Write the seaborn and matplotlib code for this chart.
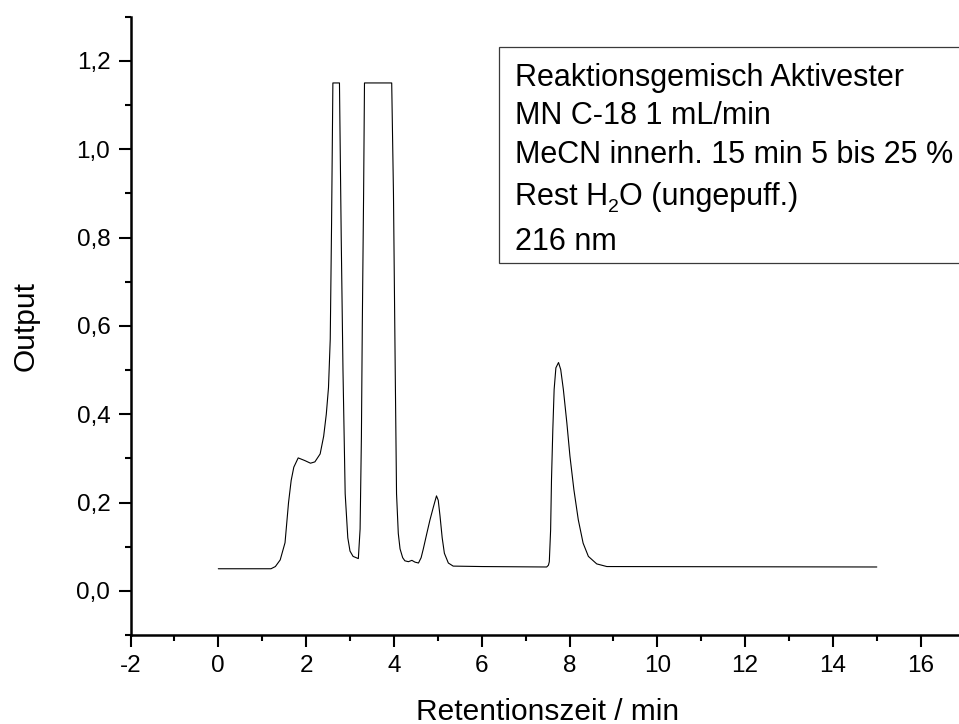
import matplotlib
matplotlib.use("Agg")
import matplotlib.pyplot as plt
from matplotlib.patches import Rectangle
from matplotlib.ticker import MultipleLocator, FuncFormatter
import numpy as np
import pandas as pd
import seaborn as sns

# Chromatogram trace: retention time (min) and detector output
retention_time = [
    0.00, 1.20, 1.30, 1.41, 1.52, 1.60, 1.66, 1.72, 1.82, 1.97, 2.10, 2.20,
    2.32, 2.40, 2.46, 2.51, 2.55, 2.58, 2.61, 2.76, 2.80, 2.84, 2.89, 2.95,
    3.00, 3.07, 3.19, 3.23, 3.26, 3.28, 3.31, 3.33, 3.95, 3.99, 4.03, 4.06,
    4.10, 4.14, 4.20, 4.25, 4.33, 4.41, 4.48, 4.56, 4.62, 4.67, 4.75, 4.82,
    4.90, 4.97, 5.01, 5.05, 5.10, 5.15, 5.24, 5.35, 6.00, 7.48, 7.52, 7.54,
    7.57, 7.59, 7.62, 7.65, 7.69, 7.75, 7.80, 7.86, 7.94, 8.01, 8.10, 8.20,
    8.31, 8.43, 8.62, 8.85, 15.00,
]
output_signal = [
    0.050, 0.050, 0.055, 0.070, 0.109, 0.200, 0.250, 0.280, 0.301, 0.295, 0.289, 0.292,
    0.310, 0.350, 0.400, 0.460, 0.570, 0.830, 1.150, 1.150, 0.800, 0.500, 0.220, 0.120,
    0.090, 0.078, 0.073, 0.140, 0.350, 0.600, 0.900, 1.150, 1.150, 0.900, 0.500, 0.220,
    0.130, 0.095, 0.075, 0.068, 0.066, 0.069, 0.065, 0.063, 0.075, 0.095, 0.130, 0.160,
    0.190, 0.215, 0.205, 0.170, 0.120, 0.085, 0.063, 0.056, 0.055, 0.054, 0.058, 0.066,
    0.138, 0.252, 0.365, 0.456, 0.505, 0.517, 0.501, 0.456, 0.380, 0.305, 0.229, 0.161,
    0.108, 0.078, 0.061, 0.055, 0.054,
]

x_ticks = [-2, 0, 2, 4, 6, 8, 10, 12, 14, 16]
y_ticks = [0.0, 0.2, 0.4, 0.6, 0.8, 1.0, 1.2]

# annotation lines; each line is a list of (text, is_subscript) runs
info_lines = [
    [("Reaktionsgemisch Aktivester", False)],
    [("MN C-18 1 mL/min", False)],
    [("MeCN innerh. 15 min 5 bis 25 %", False)],
    [("Rest H", False), ("2", True), ("O (ungepuff.)", False)],
    [("216 nm", False)],
]

sns.set_theme(style="ticks")
plt.rcParams["font.family"] = ["Liberation Sans", "DejaVu Sans"]

W, H = 959, 724
fig = plt.figure(figsize=(W / 100, H / 100), dpi=100)
fig.patch.set_facecolor("white")

# axes frame in pixel terms: left 130.5, right 964.6 (runs past the page), top 16.7, bottom 635
ax_left, ax_right, ax_top, ax_bottom = 130.5, 964.6, 16.7, 635.0
ax = fig.add_axes([ax_left / W, 1 - ax_bottom / H,
                   (ax_right - ax_left) / W, (ax_bottom - ax_top) / H])
ax.set_facecolor("white")

df = pd.DataFrame({"Retentionszeit": retention_time, "Output": output_signal})
sns.lineplot(data=df, x="Retentionszeit", y="Output", ax=ax, color="black",
             linewidth=0.8, estimator=None, sort=False)

ax.set_xlim(-2, 17)
ax.set_ylim(-0.1, 1.3)
ax.set_xticks(x_ticks)
ax.set_yticks(y_ticks)
ax.xaxis.set_minor_locator(MultipleLocator(1))
ax.yaxis.set_minor_locator(MultipleLocator(0.1))
ax.xaxis.set_major_formatter(FuncFormatter(lambda v, p: f"{v:g}"))
ax.yaxis.set_major_formatter(FuncFormatter(lambda v, p: f"{v:.1f}".replace(".", ",")))

for side in ("top", "right"):
    ax.spines[side].set_visible(False)
for side in ("left", "bottom"):
    ax.spines[side].set_linewidth(1.8)
    ax.spines[side].set_color("black")

ax.tick_params(axis="both", which="major", direction="out", length=8.5, width=1.5,
               color="black", labelsize=17.5, labelcolor="black")
ax.tick_params(axis="both", which="minor", direction="out", length=4.5, width=1.5,
               color="black")
ax.tick_params(axis="x", which="major", pad=6.0)
ax.tick_params(axis="y", which="major", pad=6.0)

ax.set_xlabel("Retentionszeit / min", fontsize=21.5, color="black")
ax.xaxis.label.set_va("baseline")
ax.xaxis.set_label_coords(0.5, (ax_bottom - 720) / (ax_bottom - ax_top))

ax.set_ylabel("Output", fontsize=21.5, color="black")
ax.yaxis.label.set_rotation_mode("default")
ax.yaxis.label.set_va("center")
ax.yaxis.label.set_ha("center")
ax.yaxis.set_label_coords((26 - ax_left) / (ax_right - ax_left), 0.5)

# annotation box, its right side runs off the page
box_left, box_top, box_bottom = 499.0, 47.3, 262.7
fig.patches.append(Rectangle((box_left / W, 1 - box_bottom / H),
                             (W + 20 - box_left) / W, (box_bottom - box_top) / H,
                             transform=fig.transFigure, facecolor="white",
                             edgecolor="#3a3a3a", linewidth=0.9, zorder=3))

renderer = fig.canvas.get_renderer()
baselines = [86.0, 124.0, 163.0, 205.0, 250.0]
for runs, yb in zip(info_lines, baselines):
    x_px = 515.0
    for text, is_sub in runs:
        size = 14 if is_sub else 22
        y_px = yb + 7 if is_sub else yb
        t = fig.text(x_px / W, 1 - y_px / H, text, fontsize=size, color="black",
                     ha="left", va="baseline", zorder=4)
        x_px += t.get_window_extent(renderer=renderer).width

fig.savefig("out.png", dpi=100, facecolor="white")
